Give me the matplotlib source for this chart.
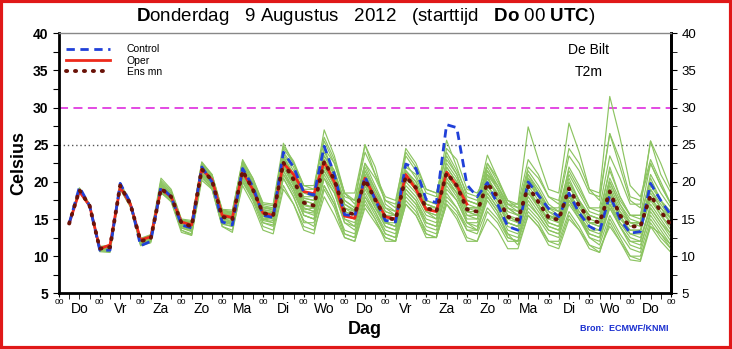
import matplotlib
matplotlib.use("Agg")
import matplotlib.pyplot as plt
import numpy as np
from matplotlib.patches import Rectangle

plt.rcParams.update({
    "font.family": ["Liberation Sans", "DejaVu Sans"],
    "mathtext.fontset": "custom",
    "mathtext.rm": "Liberation Sans",
    "mathtext.bf": "Liberation Sans:bold",
})

# lead time (hours after Do 00 UTC), 6-hourly
LEAD_HOURS = list(range(6, 361, 6))
DAY_LABELS = ["Do", "Vr", "Za", "Zo", "Ma", "Di", "Wo",
              "Do", "Vr", "Za", "Zo", "Ma", "Di", "Wo", "Do"]

ENS_MEAN = [14.4, 18.9, 16.8, 11.0, 11.2, 19.5, 17.0, 12.0, 12.4, 19.1, 18.0, 14.5,
            14.0, 21.7, 20.2, 15.3, 15.0, 21.5, 19.0, 15.8, 15.5, 22.6, 20.3, 17.2,
            16.8, 22.7, 20.3, 16.0, 15.6, 20.3, 17.6, 15.2, 14.9, 20.7, 19.2, 16.5,
            16.0, 21.2, 19.5, 16.3, 16.0, 19.8, 18.0, 15.3, 14.9, 19.4, 17.3, 15.2,
            14.9, 19.1, 16.8, 15.0, 14.5, 18.7, 15.5, 14.0, 14.0, 18.2, 16.0, 14.2]

CONTROL = [14.4, 19.3, 16.8, 10.8, 10.8, 19.8, 17.2, 11.4, 12.0, 19.3, 18.0, 14.2,
           13.8, 22.0, 20.0, 14.6, 14.2, 21.8, 19.4, 15.5, 15.2, 24.0, 22.0, 18.6,
           18.2, 24.8, 21.0, 15.6, 15.4, 20.7, 17.6, 14.8, 14.6, 22.4, 21.8, 17.6,
           17.2, 27.7, 27.3, 19.6, 18.0, 19.9, 17.0, 14.0, 13.5, 20.0, 18.2, 16.4,
           15.3, 18.5, 15.8, 14.0, 13.3, 18.2, 15.0, 13.1, 13.3, 19.8, 17.5, 15.5]

# operational run stops at +240 h
OPER = [14.4, 18.7, 16.8, 11.0, 11.5, 19.3, 17.0, 12.2, 12.6, 19.0, 18.0, 14.6,
        14.2, 21.7, 20.3, 15.5, 15.2, 21.3, 19.0, 15.8, 15.5, 22.5, 21.0, 18.7,
        18.4, 22.7, 20.0, 15.4, 15.1, 20.5, 17.8, 15.3, 15.0, 21.0, 19.0, 16.3,
        16.0, 21.3, 19.5, 17.0]

MEMBERS = [
    [14.5, 19.0, 16.9, 11.2, 11.4, 19.6, 17.2, 12.3, 12.8, 19.8, 18.5, 14.8,
     14.5, 22.3, 20.8, 16.0, 15.8, 22.5, 19.8, 16.5, 16.2, 23.5, 21.0, 17.8,
     17.5, 24.0, 21.5, 17.0, 16.2, 21.5, 19.0, 16.0, 15.5, 21.0, 19.5, 17.0,
     16.5, 22.0, 20.0, 17.5, 17.0, 21.5, 19.5, 17.0, 16.5, 22.0, 20.5, 18.0,
     17.5, 24.5, 22.5, 19.0, 18.5, 31.5, 26.0, 19.5, 18.0, 23.0, 20.0, 17.0],
    [14.3, 18.6, 16.6, 10.6, 10.5, 19.0, 16.6, 11.6, 12.0, 18.5, 17.4, 13.5,
     13.0, 20.5, 19.2, 14.3, 14.0, 20.0, 17.8, 14.5, 14.2, 20.5, 18.0, 14.8,
     14.0, 19.5, 17.0, 13.5, 13.0, 18.0, 15.5, 13.0, 12.5, 17.5, 16.0, 13.5,
     13.0, 18.0, 16.5, 13.5, 13.0, 16.5, 15.0, 12.5, 12.0, 16.0, 14.5, 12.0,
     11.5, 15.5, 13.5, 11.5, 10.5, 15.0, 12.5, 10.0, 9.5, 14.5, 12.5, 11.0],
    [14.4, 19.1, 17.0, 11.1, 11.0, 19.8, 17.3, 12.1, 12.6, 20.2, 18.8, 14.9,
     14.6, 22.7, 21.0, 16.2, 16.0, 23.0, 20.5, 17.2, 17.0, 25.2, 22.5, 19.5,
     19.0, 27.0, 23.5, 18.5, 17.5, 25.0, 21.0, 17.5, 16.5, 23.5, 21.5, 18.5,
     18.0, 25.6, 22.0, 18.0, 17.5, 23.6, 20.5, 17.0, 16.0, 21.0, 18.5, 16.0,
     15.0, 20.0, 17.5, 15.5, 15.0, 22.0, 18.0, 15.5, 15.0, 20.5, 17.5, 15.0],
    [14.4, 18.8, 16.7, 10.9, 11.1, 19.3, 16.8, 11.8, 12.2, 18.8, 17.6, 13.8,
     13.4, 21.0, 19.5, 14.6, 14.2, 20.5, 18.0, 15.0, 14.8, 21.0, 19.0, 15.5,
     15.0, 20.5, 18.5, 14.5, 14.0, 19.0, 16.5, 14.0, 13.5, 19.5, 18.0, 15.5,
     15.0, 20.0, 18.5, 15.5, 15.5, 21.0, 19.5, 17.0, 17.0, 27.4, 23.0, 19.0,
     18.5, 27.9, 24.0, 19.0, 17.5, 26.5, 22.0, 17.5, 16.5, 25.5, 21.0, 18.5],
    [14.5, 19.0, 16.9, 11.1, 11.3, 19.6, 17.1, 12.2, 12.5, 19.5, 18.3, 14.7,
     14.3, 22.0, 20.5, 15.7, 15.5, 22.0, 19.5, 16.3, 16.0, 23.0, 21.0, 17.8,
     17.5, 23.5, 21.5, 17.5, 16.5, 22.0, 19.0, 16.5, 16.0, 22.5, 20.5, 17.5,
     17.0, 22.5, 20.5, 17.0, 16.5, 20.5, 18.0, 15.5, 14.5, 19.0, 16.5, 14.0,
     13.5, 18.0, 16.0, 14.5, 14.5, 20.0, 17.0, 14.5, 14.0, 19.5, 17.5, 16.0],
    [14.3, 18.8, 16.8, 11.0, 11.0, 19.4, 17.0, 12.0, 12.3, 19.0, 17.8, 14.2,
     13.7, 21.3, 19.8, 15.0, 14.8, 21.0, 18.5, 15.5, 15.0, 21.5, 19.0, 16.0,
     15.5, 21.5, 19.0, 15.0, 14.5, 19.5, 17.0, 14.5, 14.0, 19.0, 17.5, 14.5,
     14.0, 18.5, 16.5, 14.0, 13.5, 17.5, 15.5, 13.0, 12.5, 16.5, 15.0, 13.0,
     12.5, 17.0, 15.0, 12.5, 11.5, 15.5, 13.0, 11.0, 10.5, 15.0, 13.0, 11.5],
    [14.4, 19.2, 16.8, 10.8, 10.9, 19.7, 17.1, 11.5, 12.1, 19.3, 18.0, 14.3,
     14.0, 22.0, 20.0, 14.8, 14.5, 22.0, 19.5, 15.5, 15.5, 24.0, 22.0, 18.5,
     18.0, 24.5, 21.0, 16.0, 15.5, 21.0, 18.0, 15.0, 15.0, 22.0, 21.0, 17.5,
     17.0, 24.5, 23.0, 19.0, 18.5, 21.0, 17.5, 14.5, 14.0, 19.5, 17.5, 15.5,
     15.0, 18.5, 15.5, 13.5, 13.5, 18.5, 15.5, 13.0, 13.0, 19.0, 17.0, 15.0],
    [14.4, 18.7, 16.7, 10.8, 10.8, 19.2, 16.8, 11.7, 12.0, 18.7, 17.5, 13.5,
     12.8, 20.8, 19.0, 14.0, 13.5, 19.5, 17.0, 13.5, 13.0, 19.0, 17.0, 14.0,
     13.5, 18.0, 15.5, 12.5, 12.0, 16.5, 14.5, 12.5, 12.0, 17.0, 15.5, 13.0,
     12.5, 17.5, 16.0, 13.5, 13.5, 18.5, 16.5, 14.0, 13.5, 18.0, 16.0, 14.0,
     13.5, 17.5, 15.0, 13.0, 12.5, 17.0, 14.0, 12.0, 12.0, 16.5, 14.5, 12.5],
    [14.5, 19.0, 16.9, 11.2, 11.3, 19.4, 17.0, 12.1, 12.6, 19.4, 18.2, 14.6,
     14.2, 21.8, 20.3, 15.4, 15.2, 21.5, 19.0, 15.8, 15.5, 22.5, 20.0, 16.5,
     16.0, 22.0, 20.0, 16.5, 16.0, 21.0, 18.5, 16.0, 15.5, 21.5, 20.0, 17.0,
     16.5, 21.5, 19.5, 16.5, 16.5, 22.5, 20.5, 17.5, 17.0, 23.0, 21.0, 18.0,
     17.0, 23.5, 21.5, 18.5, 18.0, 26.5, 23.0, 18.0, 17.5, 22.5, 19.5, 17.0],
    [14.4, 18.9, 16.8, 11.0, 11.2, 19.5, 16.9, 12.0, 12.4, 19.0, 17.9, 14.4,
     13.8, 21.5, 20.0, 15.2, 15.0, 21.8, 19.2, 16.0, 15.8, 22.0, 19.5, 16.2,
     16.5, 23.0, 20.5, 16.5, 15.5, 19.5, 16.5, 14.5, 14.0, 20.0, 18.5, 16.0,
     15.5, 20.5, 18.5, 15.5, 15.0, 19.0, 17.0, 14.5, 14.0, 18.5, 16.5, 15.0,
     14.5, 19.5, 17.0, 14.5, 14.0, 18.0, 15.0, 13.5, 13.5, 17.5, 15.5, 14.0],
    [14.3, 18.9, 16.8, 11.0, 11.2, 19.5, 17.0, 12.1, 12.5, 19.2, 18.1, 14.5,
     14.1, 21.6, 20.1, 15.1, 14.6, 21.2, 18.8, 15.0, 14.5, 21.0, 18.5, 15.5,
     15.0, 20.5, 17.5, 13.0, 12.5, 18.0, 16.0, 13.0, 12.5, 18.5, 17.0, 14.0,
     13.5, 19.0, 17.5, 14.5, 14.0, 18.0, 16.0, 13.0, 11.5, 15.5, 14.0, 11.5,
     11.0, 15.0, 13.5, 11.0, 10.5, 14.5, 12.0, 9.5, 9.3, 14.0, 13.0, 11.0],
    [14.5, 19.1, 17.0, 11.3, 11.5, 19.8, 17.3, 12.4, 12.9, 20.5, 19.0, 15.0,
     14.8, 22.5, 21.0, 16.3, 16.2, 22.8, 20.5, 17.0, 16.8, 24.5, 22.5, 19.0,
     19.0, 25.5, 22.5, 18.0, 17.5, 24.0, 21.0, 18.0, 17.5, 24.0, 22.0, 19.0,
     18.5, 23.5, 21.0, 17.5, 17.0, 21.5, 19.0, 16.0, 15.5, 20.5, 18.5, 16.5,
     16.0, 21.0, 18.5, 16.0, 15.5, 20.0, 17.0, 15.0, 14.5, 21.0, 18.5, 16.5],
    [14.4, 18.8, 16.8, 11.1, 11.2, 19.3, 16.9, 11.9, 12.3, 19.0, 17.8, 14.0,
     13.5, 21.2, 19.7, 14.8, 14.5, 20.8, 18.3, 15.0, 15.2, 22.0, 19.5, 16.5,
     16.0, 21.5, 19.0, 15.5, 15.0, 20.0, 17.0, 14.0, 13.5, 19.0, 17.5, 15.0,
     14.5, 20.0, 18.0, 15.0, 15.0, 19.5, 17.5, 15.5, 15.0, 20.5, 18.0, 15.5,
     14.5, 18.5, 16.0, 14.0, 13.5, 17.5, 14.5, 13.0, 12.5, 16.5, 14.5, 13.0],
    [14.4, 19.0, 16.9, 11.0, 11.1, 19.6, 17.1, 12.2, 12.6, 19.6, 18.4, 14.8,
     14.4, 22.2, 20.6, 15.8, 15.6, 22.3, 19.8, 16.5, 16.5, 23.8, 21.5, 18.0,
     18.0, 24.5, 22.5, 18.5, 18.5, 25.0, 22.0, 17.0, 16.0, 21.5, 19.5, 16.5,
     16.0, 21.0, 19.0, 16.0, 16.0, 20.0, 18.5, 16.5, 16.0, 21.5, 19.5, 17.0,
     16.0, 20.5, 17.5, 15.0, 14.5, 19.0, 16.0, 14.5, 14.5, 18.5, 16.5, 15.0],
    [14.3, 18.7, 16.6, 10.7, 10.6, 19.1, 16.7, 11.4, 11.8, 18.6, 17.3, 13.2,
     12.8, 20.2, 19.0, 14.0, 13.2, 20.0, 17.5, 14.0, 13.5, 19.5, 17.0, 13.5,
     13.0, 19.0, 16.5, 12.5, 12.0, 17.0, 15.0, 12.0, 12.0, 18.0, 16.5, 13.0,
     12.5, 17.0, 15.5, 12.5, 12.0, 15.0, 13.5, 11.0, 11.0, 15.5, 14.0, 12.0,
     12.0, 16.0, 14.0, 11.5, 11.0, 14.0, 12.0, 10.0, 10.0, 14.0, 12.0, 10.5],
    [14.4, 18.9, 16.8, 11.0, 11.2, 19.5, 17.0, 12.0, 12.4, 19.3, 18.1, 14.5,
     14.1, 21.8, 20.3, 15.5, 15.3, 21.7, 19.3, 16.0, 15.8, 23.0, 20.8, 17.5,
     17.0, 22.5, 20.0, 15.5, 15.0, 20.5, 18.0, 15.5, 15.0, 21.0, 19.5, 16.5,
     16.0, 22.0, 20.0, 16.5, 16.0, 19.5, 17.5, 14.5, 14.0, 18.5, 17.0, 15.0,
     15.5, 19.5, 17.0, 15.5, 15.0, 19.0, 16.0, 14.0, 14.5, 19.0, 16.5, 14.5],
    [14.4, 18.9, 16.9, 11.1, 11.3, 19.6, 17.1, 12.2, 12.6, 19.5, 18.2, 14.6,
     14.2, 22.0, 20.4, 15.6, 15.4, 22.0, 19.5, 16.2, 16.0, 22.8, 20.5, 17.0,
     16.5, 23.5, 21.0, 17.0, 16.0, 21.5, 18.5, 15.5, 15.0, 20.5, 19.0, 16.5,
     16.5, 23.0, 21.0, 17.5, 17.0, 22.0, 19.5, 16.5, 15.5, 20.0, 18.0, 16.0,
     15.5, 22.0, 19.5, 16.5, 16.0, 21.5, 18.0, 15.5, 15.5, 22.5, 19.5, 17.0],
    [14.3, 18.8, 16.7, 10.9, 10.9, 19.3, 16.9, 11.8, 12.2, 18.9, 17.7, 14.0,
     13.6, 21.2, 19.6, 14.7, 14.3, 20.6, 18.2, 14.8, 14.5, 21.5, 19.0, 15.5,
     15.0, 21.0, 18.5, 14.5, 13.5, 18.5, 16.0, 13.5, 13.0, 18.5, 17.0, 14.5,
     14.0, 19.5, 17.5, 14.5, 14.5, 18.5, 16.5, 13.5, 13.0, 17.5, 15.5, 13.5,
     13.0, 17.5, 15.5, 13.5, 13.0, 17.0, 14.5, 12.5, 12.0, 17.0, 15.0, 13.0],
    [14.5, 19.1, 17.0, 11.2, 11.4, 19.7, 17.2, 12.3, 12.7, 20.0, 18.7, 14.9,
     14.6, 22.6, 20.9, 16.1, 15.9, 22.7, 20.2, 16.8, 16.5, 24.8, 22.8, 19.5,
     19.5, 26.0, 23.0, 18.5, 17.0, 22.5, 19.5, 16.5, 15.5, 21.0, 19.0, 16.0,
     15.5, 21.0, 19.0, 16.0, 15.5, 20.5, 18.5, 15.5, 14.5, 20.0, 18.0, 15.5,
     15.0, 19.5, 17.0, 14.5, 14.5, 19.5, 16.5, 14.5, 14.5, 18.0, 15.5, 13.5],
    [14.4, 18.8, 16.8, 11.0, 11.0, 19.4, 16.9, 11.9, 12.2, 19.1, 17.9, 14.2,
     13.6, 21.6, 20.0, 14.9, 14.4, 21.3, 18.8, 15.3, 15.0, 22.3, 20.0, 16.0,
     15.8, 22.0, 19.5, 15.0, 14.0, 20.0, 17.5, 14.5, 14.0, 20.5, 19.0, 16.0,
     15.0, 20.5, 18.5, 14.5, 13.5, 18.0, 16.0, 12.5, 12.0, 18.5, 17.0, 14.5,
     14.0, 18.0, 15.5, 12.5, 12.0, 16.5, 14.0, 11.5, 11.0, 16.0, 14.0, 12.0],
    [14.4, 19.0, 16.8, 11.0, 11.2, 19.5, 17.0, 12.1, 12.5, 19.3, 18.1, 14.5,
     14.1, 21.9, 20.3, 15.5, 15.2, 21.6, 19.1, 15.9, 15.6, 22.5, 20.3, 17.0,
     16.5, 22.5, 20.0, 16.0, 15.5, 20.5, 18.0, 15.5, 15.5, 21.5, 20.0, 17.0,
     16.5, 21.5, 19.5, 16.5, 16.5, 21.0, 19.0, 16.5, 15.5, 20.5, 18.5, 16.5,
     16.5, 21.5, 19.0, 16.5, 16.5, 23.5, 20.5, 17.0, 17.0, 25.5, 22.5, 19.0],
    [14.4, 18.9, 16.8, 11.0, 11.1, 19.4, 17.0, 12.0, 12.4, 19.0, 17.9, 14.3,
     13.9, 21.5, 20.1, 15.3, 15.1, 21.4, 18.9, 15.6, 15.3, 22.2, 19.8, 16.8,
     16.5, 22.0, 19.5, 15.5, 15.0, 19.5, 17.0, 14.5, 14.5, 20.5, 19.0, 16.5,
     16.0, 21.5, 19.5, 16.0, 15.5, 19.5, 17.5, 15.0, 14.5, 19.0, 17.0, 14.5,
     14.0, 18.5, 16.5, 14.5, 14.0, 18.5, 15.5, 13.5, 13.5, 18.0, 16.0, 14.5],
    [14.3, 18.8, 16.7, 10.9, 11.0, 19.3, 16.8, 11.8, 12.1, 18.8, 17.6, 13.8,
     13.3, 20.8, 19.3, 14.4, 14.0, 20.2, 17.8, 14.5, 14.0, 20.5, 18.0, 14.5,
     14.5, 19.5, 17.0, 13.0, 12.5, 17.5, 15.0, 12.5, 12.0, 17.0, 15.5, 12.5,
     12.5, 17.0, 15.0, 12.0, 12.0, 16.0, 14.5, 12.0, 12.0, 17.0, 15.5, 13.5,
     13.0, 17.5, 15.5, 13.0, 12.5, 16.5, 14.0, 12.0, 11.5, 15.5, 13.5, 11.5],
    [14.5, 19.0, 16.9, 11.1, 11.3, 19.6, 17.1, 12.2, 12.6, 19.7, 18.4, 14.7,
     14.4, 22.1, 20.6, 15.9, 15.7, 22.4, 19.9, 16.6, 16.3, 23.3, 21.0, 17.5,
     17.0, 23.0, 21.0, 17.5, 16.5, 22.5, 20.5, 17.5, 17.0, 24.5, 22.5, 19.0,
     18.5, 24.0, 21.5, 18.5, 18.0, 22.5, 20.0, 17.5, 16.5, 21.0, 19.0, 16.5,
     15.5, 20.0, 17.5, 15.5, 15.0, 20.5, 17.5, 15.5, 15.5, 20.0, 17.5, 15.5],
]

days = np.array(LEAD_HOURS) / 24.0

fig = plt.figure(figsize=(7.32, 3.49), dpi=100)
ax = fig.add_axes([0.0806, 0.1596, 0.836, 0.745])

for m in MEMBERS:
    ax.plot(days, m, color="#8cc461", lw=0.85, zorder=2)

ax.axhline(30, color="#e03ce0", lw=1.3, ls=(0, (5, 3)), zorder=1)
ax.axhline(25, color="#555555", lw=1.0, ls=(0, (1, 2)), zorder=1)

ax.plot(days[:len(OPER)], OPER, color="#ee2a1c", lw=2.0, zorder=3, label="Oper")
ax.plot(days, CONTROL, color="#2040d8", lw=2.0, ls=(0, (3, 2)), zorder=4,
        label="Control")
ax.plot(days, ENS_MEAN, color="#6a1208", lw=2.8, ls=(0, (0.3, 2.0)),
        dash_capstyle="round", zorder=5, label="Ens mn")

ax.set_xlim(0, 15)
ax.set_ylim(5, 40)
ax.set_yticks(range(5, 41, 5))
ax.set_yticks(np.arange(7.5, 40, 5), minor=True)
ax.set_yticklabels([str(v) for v in range(5, 41, 5)], fontsize=10,
                   fontweight="bold")
ax.tick_params(axis="y", which="both", direction="out", length=4, width=0.8)

# x axis: "00" at each midnight, day names in between
ax.set_xticks(range(0, 16))
ax.set_xticklabels(["00"] * 16, fontsize=6)
ax.set_xticks([d + f for d in range(15) for f in (0.25, 0.5, 0.75)], minor=True)
ax.tick_params(axis="x", which="major", direction="out", length=3, pad=1)
ax.tick_params(axis="x", which="minor", direction="out", length=4)
for i, name in enumerate(DAY_LABELS):
    ax.text(i + 0.5, -0.035, name, transform=ax.get_xaxis_transform(),
            ha="center", va="top", fontsize=10)
ax.text(0.5, -0.105, "Dag", transform=ax.transAxes, ha="center", va="top",
        fontsize=13, fontweight="bold")
ax.set_ylabel("Celsius", fontsize=13, fontweight="bold", labelpad=4)

for s in ("left", "right", "bottom"):
    ax.spines[s].set_linewidth(2.0)
ax.spines["top"].set_color("#888888")
ax.spines["top"].set_linewidth(1.0)

# right-hand labels in normal weight
sec = ax.secondary_yaxis("right")
sec.set_yticks(range(5, 41, 5))
sec.set_yticklabels([str(v) for v in range(5, 41, 5)], fontsize=9.5)
sec.set_yticks(np.arange(7.5, 40, 5), minor=True)
sec.tick_params(which="both", direction="out", length=4)
sec.spines["right"].set_linewidth(2.0)

handles, labels = ax.get_legend_handles_labels()
order = [1, 0, 2]
ax.legend([handles[i] for i in order], [labels[i] for i in order],
          loc="upper left", bbox_to_anchor=(0.0, 0.985), frameon=False,
          fontsize=7.5, handlelength=4.2, labelspacing=0.12, handletextpad=1.6,
          borderaxespad=0.3)

ax.text(0.865, 0.935, "De Bilt", transform=ax.transAxes, ha="center",
        va="center", fontsize=10)
ax.text(0.865, 0.85, "T2m", transform=ax.transAxes, ha="center",
        va="center", fontsize=10)

fig.text(0.5, 0.952, r"$\mathbf{D}$onderdag   9 Augustus   2012   (starttijd   "
         r"$\mathbf{Do}$ 00 $\mathbf{UTC}$)", ha="center", va="center",
         fontsize=13.5)
fig.text(0.913, 0.058, "Bron:  ECMWF/KNMI", ha="right", va="center",
         fontsize=6.5, color="#1a2fd0", fontweight="bold")

fig.patches.append(Rectangle((0.002, 0.003), 0.996, 0.994,
                             transform=fig.transFigure, fill=False,
                             edgecolor="#e01818", lw=3))

fig.savefig("out.png", dpi=100)
